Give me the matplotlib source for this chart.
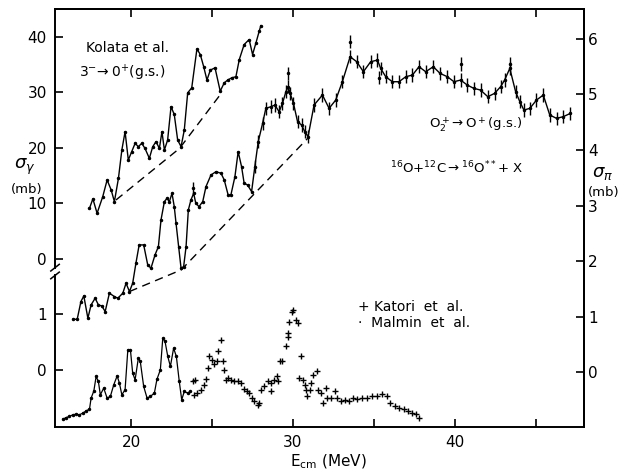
import matplotlib.pyplot as plt
from matplotlib.transforms import blended_transform_factory

# Kolata et al. 3- -> 0+(g.s.), sigma_gamma in mb (upper left scale)
kol_e = [17.43, 17.64, 17.9, 18.25, 18.52, 18.77, 18.97, 19.22, 19.43, 19.63, 19.83, 20.04,
         20.25, 20.45, 20.66, 20.86, 21.13, 21.34, 21.54, 21.75, 21.91, 22.06, 22.26, 22.47,
         22.67, 22.88, 23.09, 23.29, 23.5, 23.75, 24.07, 24.28, 24.49, 24.69, 24.9, 25.19,
         25.51, 25.76, 25.97, 26.22, 26.48, 26.69, 26.99, 27.3, 27.51, 27.72, 27.92, 28.02]
kol_s = [9.1, 10.8, 8.2, 11.2, 14.2, 12.4, 10.3, 14.5, 19.6, 22.9, 17.8, 19.3,
         20.8, 20.2, 20.8, 19.9, 18.1, 20.2, 21.1, 19.9, 22.9, 19.6, 21.4, 27.4,
         26.0, 21.4, 20.2, 23.2, 29.9, 30.8, 37.8, 36.8, 34.6, 32.2, 34.0, 34.4,
         30.2, 31.7, 32.2, 32.6, 32.8, 35.9, 38.6, 39.5, 36.8, 38.9, 41.0, 42.0]
kol_bg_e = [19.07, 23.0, 25.6]
kol_bg_s = [10.6, 19.9, 29.9]

# O2+ -> O+(g.s.), sigma_pi in mb (right scale)
o2_e = [16.4, 16.67, 16.9, 17.08, 17.33, 17.53, 17.78, 17.98, 18.19, 18.4, 18.66, 18.97,
        19.18, 19.49, 19.69, 19.9, 20.1, 20.3, 20.5, 20.78, 21.03, 21.23, 21.48, 21.69,
        21.85, 22.06, 22.22, 22.37, 22.53, 22.67, 22.78, 22.94, 23.09, 23.25, 23.4, 23.54,
        23.7, 23.87, 24.0, 24.2, 24.43, 24.63, 24.94, 25.25, 25.56, 25.76, 26.0, 26.17,
        26.42, 26.62, 26.83, 26.99, 27.2, 27.45, 27.65, 27.86, 28.13, 28.33, 28.64, 28.89,
        29.15, 29.36, 29.57, 29.71, 29.83, 30.04, 30.29, 30.54, 30.74, 30.94, 31.31, 31.83,
        32.24, 32.65, 33.06, 33.54, 33.95, 34.36, 34.81, 35.23, 35.43, 35.74, 36.15, 36.56,
        36.98, 37.39, 37.8, 38.21, 38.68, 39.1, 39.55, 39.96, 40.37, 40.78, 41.19, 41.6,
        42.05, 42.47, 42.84, 43.09, 43.41, 43.77, 44.03, 44.28, 44.65, 45.06, 45.48, 45.88,
        46.3, 46.71, 47.16]
o2_s = [0.95, 0.95, 1.27, 1.37, 0.97, 1.21, 1.33, 1.21, 1.19, 1.09, 1.42, 1.36,
        1.33, 1.42, 1.60, 1.45, 1.60, 1.96, 2.29, 2.29, 1.93, 1.87, 2.11, 2.26,
        2.74, 3.07, 3.13, 3.07, 3.22, 2.98, 2.68, 2.26, 1.87, 1.90, 2.26, 2.92,
        3.10, 3.22, 3.04, 2.98, 3.07, 3.34, 3.55, 3.61, 3.58, 3.46, 3.19, 3.19,
        3.52, 3.97, 3.70, 3.40, 3.37, 3.25, 3.70, 4.15, 4.48, 4.75, 4.78, 4.81,
        4.69, 4.84, 5.05, 5.14, 5.02, 4.84, 4.51, 4.45, 4.33, 4.24, 4.81, 4.99,
        4.75, 4.90, 5.23, 5.68, 5.59, 5.41, 5.59, 5.62, 5.47, 5.32, 5.23, 5.23,
        5.32, 5.35, 5.50, 5.41, 5.50, 5.38, 5.32, 5.23, 5.26, 5.17, 5.11, 5.08,
        4.96, 5.02, 5.14, 5.26, 5.47, 5.05, 4.87, 4.72, 4.75, 4.90, 4.99, 4.63,
        4.57, 4.60, 4.66]
o2_err = 0.12
o2_bg_e = [19.9, 23.1, 30.95]
o2_bg_s = [1.45, 1.84, 4.22]
# a few separate points with bars
o2_out_e = [23.8, 29.67, 33.54, 35.3, 40.37, 43.4]
o2_out_s = [3.31, 5.38, 5.95, 5.30, 5.55, 5.55]

# lower curves, relative units (lower left scale)
mal_e = [15.78, 15.99, 16.19, 16.4, 16.6, 16.81, 17.02, 17.22, 17.43, 17.53, 17.7, 17.84,
         17.98, 18.1, 18.31, 18.52, 18.72, 18.93, 19.14, 19.28, 19.43, 19.63, 19.8, 19.96,
         20.1, 20.25, 20.45, 20.57, 20.78, 20.99, 21.19, 21.44, 21.6, 21.81, 21.96, 22.1,
         22.27, 22.43, 22.63, 22.8, 22.98, 23.13, 23.29, 23.5, 23.66]
mal_v = [-0.85, -0.82, -0.80, -0.77, -0.76, -0.77, -0.74, -0.70, -0.67, -0.47, -0.34, -0.08,
         -0.17, -0.41, -0.29, -0.47, -0.44, -0.23, -0.07, -0.20, -0.41, -0.32, 0.40, 0.40,
         -0.02, -0.14, 0.25, 0.19, -0.26, -0.47, -0.44, -0.38, -0.13, 0.04, 0.61, 0.55,
         0.28, 0.10, 0.43, 0.28, -0.17, -0.50, -0.35, -0.38, -0.35]
kat_e = [23.8, 23.95, 23.9, 24.1, 24.32, 24.49, 24.63, 24.74, 24.83, 24.98, 25.14, 25.31,
         25.35, 25.56, 25.66, 25.76, 25.86, 26.0, 26.17, 26.38, 26.59, 26.79, 26.96, 27.16,
         27.3, 27.45, 27.61, 27.82, 27.92, 28.02, 28.23, 28.44, 28.64, 28.68, 28.85, 29.01,
         29.09, 29.22, 29.36, 29.57, 29.67, 29.71, 29.77, 29.92, 30.04, 30.19, 30.29, 30.49,
         30.39, 30.6, 30.74, 30.82, 30.9, 31.07, 31.15, 31.27, 31.48, 31.56, 31.73, 31.89,
         32.04, 32.14, 32.35, 32.59, 32.76, 32.96, 33.21, 33.48, 33.74, 33.99, 34.3, 34.61,
         34.92, 35.23, 35.54, 35.8, 36.01, 36.3, 36.56, 36.87, 37.12, 37.39, 37.59, 37.8]
kat_v = [-0.17, -0.14, -0.41, -0.38, -0.32, -0.23, -0.13, 0.08, 0.28, 0.22, 0.14, 0.19,
         0.38, 0.58, 0.19, 0.04, -0.14, -0.11, -0.14, -0.16, -0.17, -0.20, -0.31, -0.34,
         -0.38, -0.46, -0.53, -0.59, -0.56, -0.32, -0.26, -0.17, -0.35, -0.20, -0.14, -0.07,
         -0.17, 0.19, 0.20, 0.46, 0.64, 0.70, 0.91, 1.09, 1.12, 0.94, 0.88, 0.29,
         -0.10, -0.14, -0.23, -0.32, -0.43, -0.32, -0.20, -0.05, 0.01, -0.32, -0.38, -0.55,
         -0.29, -0.47, -0.47, -0.35, -0.47, -0.53, -0.50, -0.53, -0.47, -0.49, -0.46, -0.47,
         -0.43, -0.43, -0.40, -0.44, -0.55, -0.62, -0.65, -0.67, -0.70, -0.73, -0.76, -0.82]

left_ticks = ['0', '1', '0', '10', '20', '30', '40']

# sigma_gamma (mb) -> plot units of the right scale
def kol_y(v):
    return [2.04 + s / 10.0 for s in v]

plt.rcParams['font.family'] = 'DejaVu Sans'
fig = plt.figure(figsize=(6.26, 4.74), dpi=100)
ax = fig.add_axes([0.0879, 0.0992, 0.8451, 0.8818])
ax.set_xlim(15.3, 48.0)
ax.set_ylim(-0.99, 6.54)

ax.plot(kol_e, kol_y(kol_s), '-', color='k', lw=1.0, marker='.', ms=3)
ax.plot(kol_bg_e, kol_y(kol_bg_s), '--', color='k', lw=1.0, dashes=(6, 4))

ax.plot(o2_e, o2_s, '-', color='k', lw=1.0, marker='.', ms=3)
hi = [i for i, e in enumerate(o2_e) if e > 27.5]
ax.errorbar([o2_e[i] for i in hi], [o2_s[i] for i in hi], yerr=o2_err,
            fmt='none', ecolor='k', elinewidth=1.0)
ax.errorbar(o2_out_e, o2_out_s, yerr=0.12, fmt='.', color='k', ms=3, elinewidth=1.0)
ax.plot(o2_bg_e, o2_bg_s, '--', color='k', lw=1.0, dashes=(6, 4))

ax.plot(mal_e, mal_v, '-', color='k', lw=0.9, marker='.', ms=3)
ax.plot(kat_e, kat_v, '+', color='k', ms=4, mew=1.0)

# axes frame and ticks
ax.spines['left'].set_visible(False)
for s in ['top', 'right', 'bottom']:
    ax.spines[s].set_linewidth(1.4)
tr = blended_transform_factory(ax.transAxes, ax.transData)
ax.plot([0, 0], [-0.99, 1.74], color='k', lw=1.4, transform=tr, clip_on=False)
ax.plot([0, 0], [1.88, 6.54], color='k', lw=1.4, transform=tr, clip_on=False)
ax.plot([-0.008, 0.008], [1.68, 1.80], color='k', lw=1.1, transform=tr, clip_on=False)
ax.plot([-0.008, 0.008], [1.82, 1.94], color='k', lw=1.1, transform=tr, clip_on=False)

ax.set_xticks([20, 30, 40])
ax.set_xticks([25, 35, 45], minor=True)
ax.set_yticks([0.04, 1.04, 2.04, 3.04, 4.04, 5.04, 6.04])
ax.set_yticklabels(left_ticks)
ax.tick_params(axis='both', which='both', direction='in', labelsize=11, width=1.2)
ax.tick_params(axis='x', which='both', length=6, pad=6)
ax.tick_params(axis='y', length=6, pad=6)

sec_y = ax.secondary_yaxis('right')
sec_y.set_yticks([0, 1, 2, 3, 4, 5, 6])
sec_y.tick_params(direction='in', length=6, width=1.2, labelsize=11, pad=3)
sec_y.spines['right'].set_linewidth(1.4)
sec_x = ax.secondary_xaxis('top')
sec_x.set_xticks([20, 25, 30, 35, 40, 45])
sec_x.tick_params(direction='in', length=6, width=1.2, labeltop=False)
sec_x.spines['top'].set_linewidth(1.4)

# labels
ax.text(17.2, 5.84, 'Kolata et al.', fontsize=10, va='center')
ax.text(16.8, 5.39, r'3$^{-}\!\rightarrow$0$^{+}$(g.s.)', fontsize=10, va='center')
ax.text(38.4, 4.45, r'O$_2^+\!\rightarrow$O$^+$(g.s.)', fontsize=9.5, va='center')
ax.text(36.0, 3.68, r'$^{16}$O+$^{12}$C$\rightarrow$$^{16}$O$^{**}$+ X', fontsize=9.5, va='center')
ax.text(34.0, 1.17, '+ Katori  et  al.', fontsize=10, va='center')
ax.text(34.0, 0.88, '·  Malmin  et  al.', fontsize=10, va='center')

fig.text(0.040, 0.648, r'$\sigma_\gamma$', fontsize=13, ha='center', va='center')
fig.text(0.043, 0.600, '(mb)', fontsize=9.5, ha='center', va='center')
fig.text(0.962, 0.634, r'$\sigma_\pi$', fontsize=13, ha='center', va='center')
fig.text(0.965, 0.594, '(mb)', fontsize=9.5, ha='center', va='center')
fig.text(0.525, 0.025, r'E$_{\rm cm}$ (MeV)', fontsize=11, ha='center', va='center')

fig.savefig('out.png', dpi=100)
